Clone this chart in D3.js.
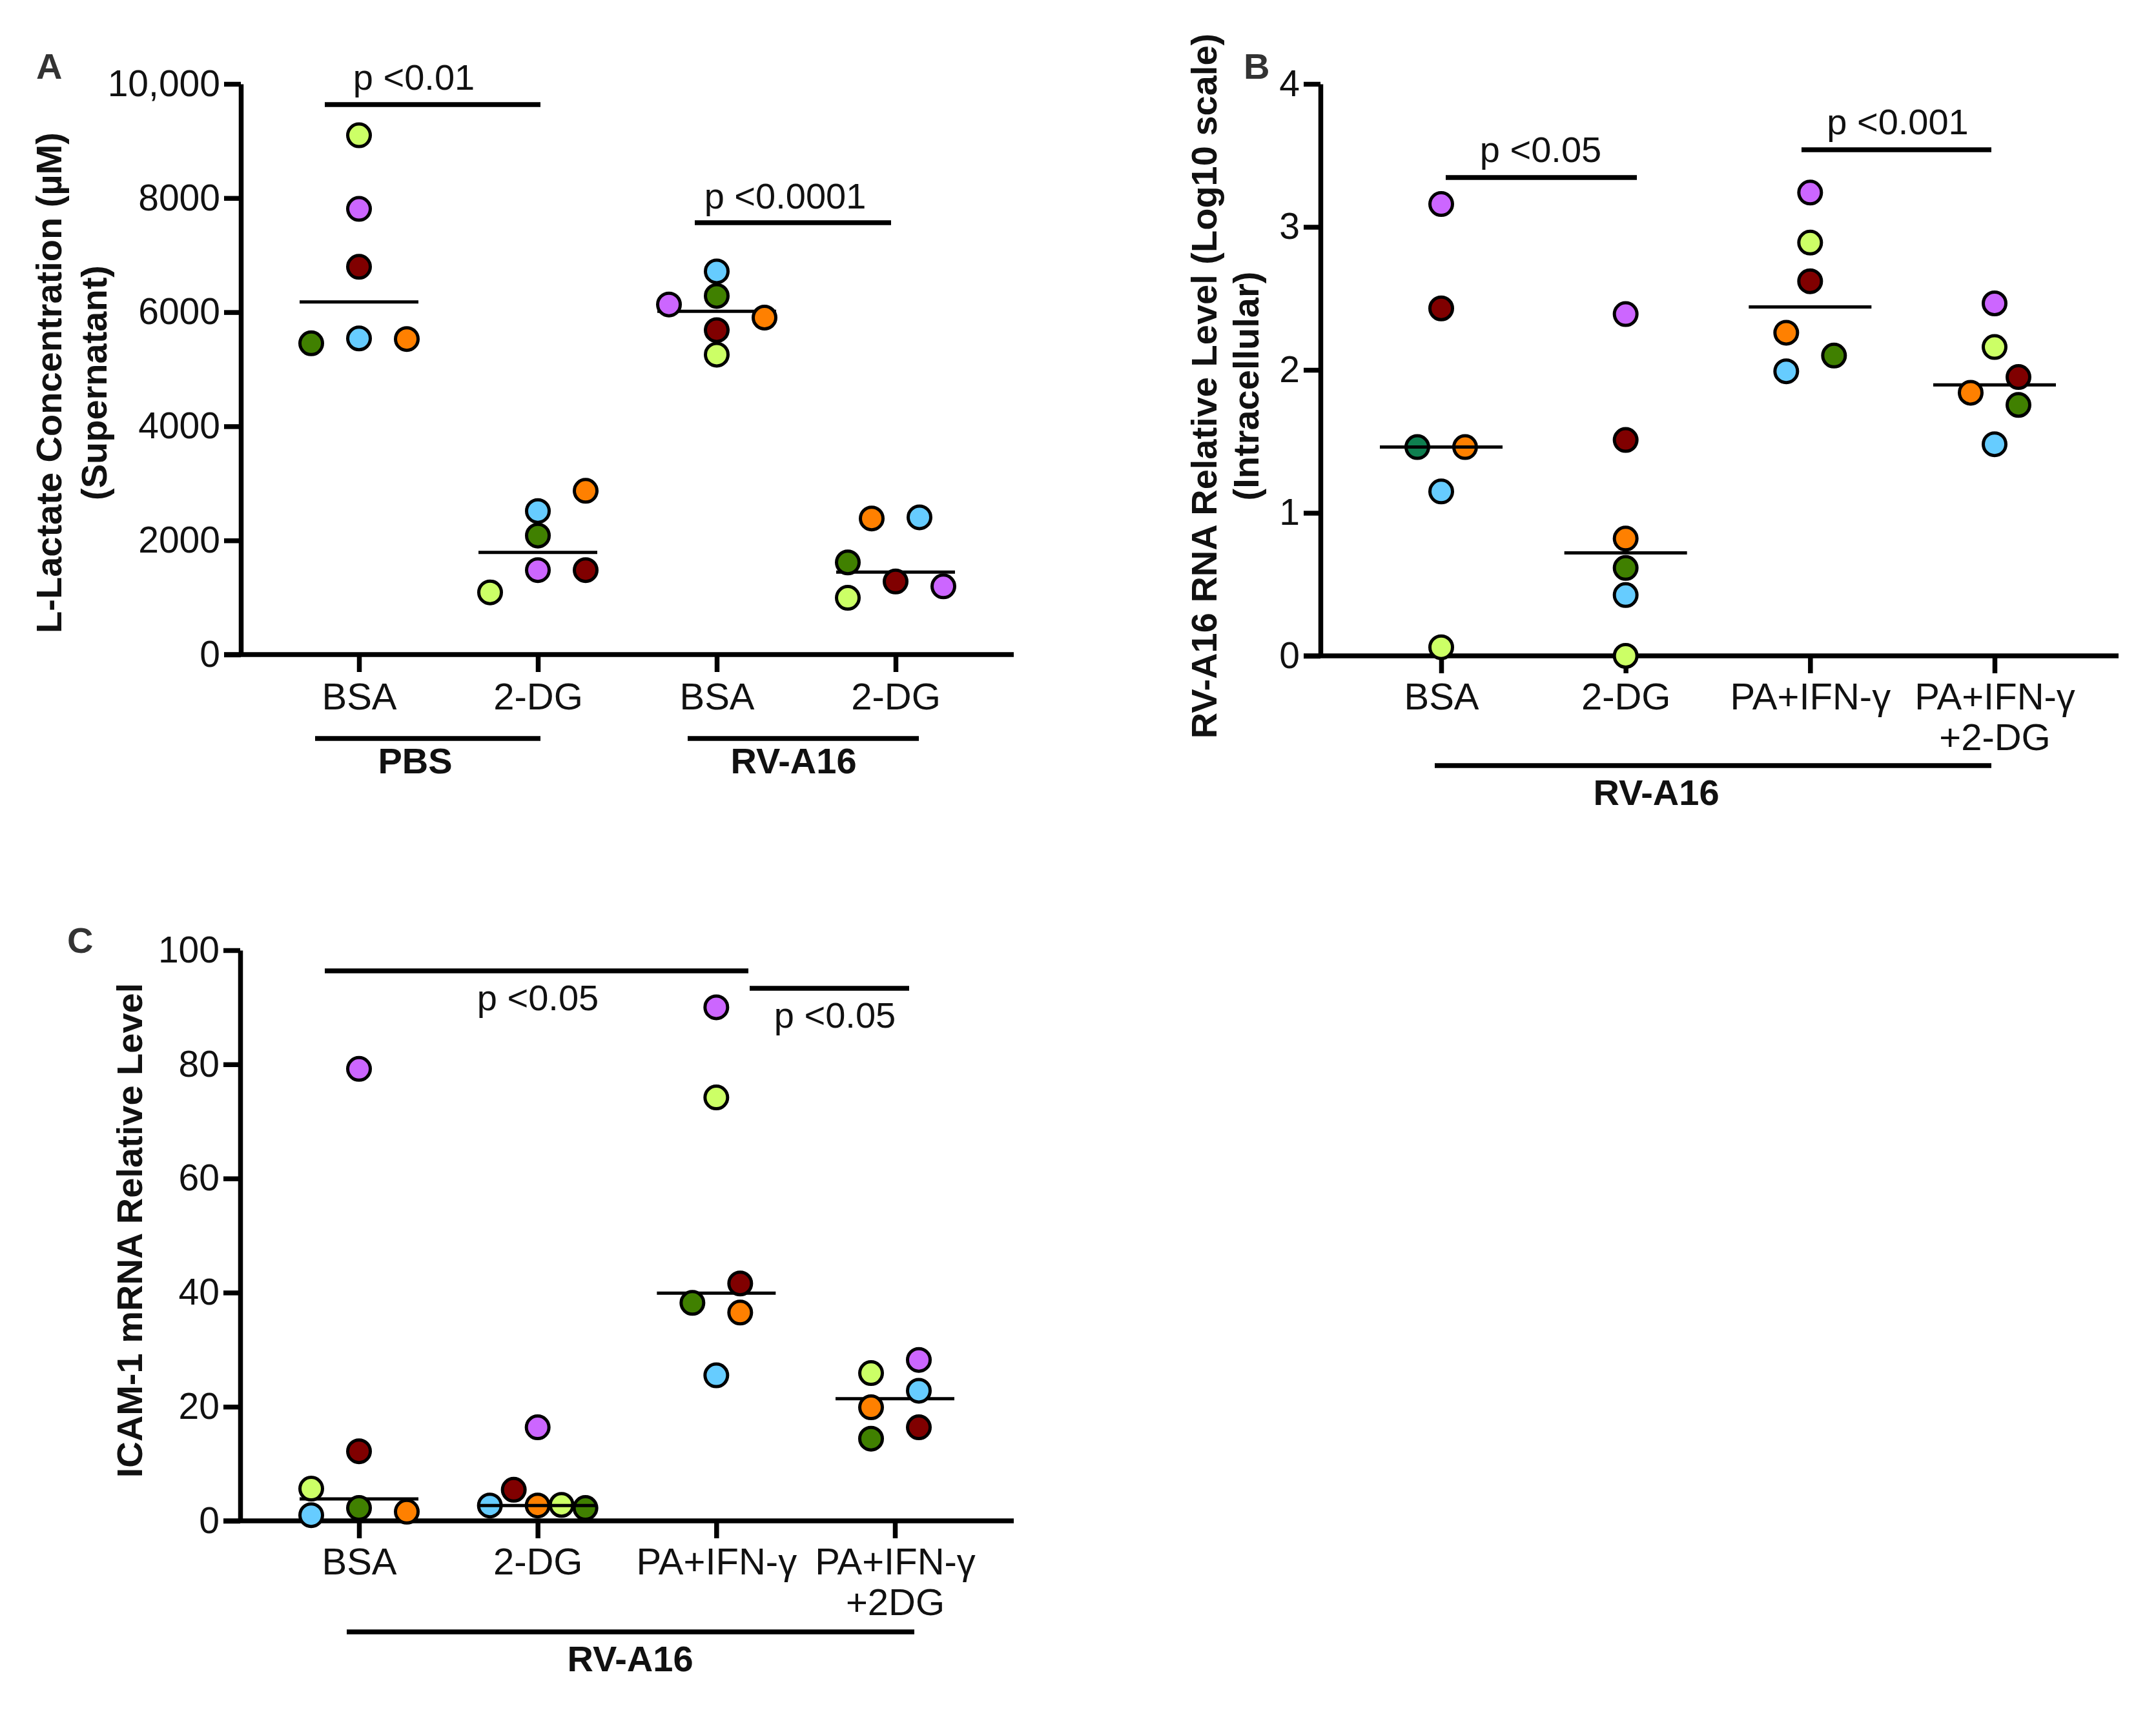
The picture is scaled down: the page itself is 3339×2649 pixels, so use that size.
<!DOCTYPE html>
<html lang="en">
<head>
    <meta charset="UTF-8">
    <title>L-Lactate, RV-A16 RNA and ICAM-1 mRNA levels</title>
    <script src="https://d3js.org/d3.v7.min.js"></script>
    <style>
        body {
            margin: 0;
            background-color: #fff;
        }
        text {
            font-family: "Liberation Sans", Arial, sans-serif;
            fill: #111;
        }
        .tick text {
            font-size: 57px;
        }
        .tick text.cat {
            font-size: 58px;
        }
        .axis path, .axis line {
            stroke: #000;
            stroke-width: 7.5px;
        }
        .title {
            font-size: 56px;
            font-weight: bold;
            text-anchor: middle;
        }
        .pval {
            font-size: 56px;
            text-anchor: middle;
        }
        .group {
            font-size: 56px;
            font-weight: bold;
            text-anchor: middle;
        }
        .letter {
            font-size: 56px;
            font-weight: bold;
            fill: #333;
        }
        .bar {
            stroke: #000;
            stroke-width: 7.5px;
        }
        .median {
            stroke: #000;
            stroke-width: 5px;
        }
        .dot {
            stroke: #000;
            stroke-width: 5px;
        }
    </style>
</head>
<body>
    <svg id="chart" width="3339" height="2649"></svg>
    <script>
        // Donor colours, same order as the rows in the value tables below
        const donorColors = ["#ccff66", "#cc66ff", "#800000", "#408000", "#66ccff", "#ff8000"];

        // Panel A: rows are donors, columns are groups
        const lactateGroups = ["BSA", "2-DG", "BSA", "2-DG"];
        const lactateTicks = [0, 2000, 4000, 6000, 8000, 10000];
        const lactateValues = [
            [9100, 1090, 5255, 995],
            [7810, 1480, 6135, 1195],
            [6795, 1480, 5685, 1280],
            [5455, 2085, 6285, 1615],
            [5540, 2515, 6715, 2405],
            [5530, 2870, 5905, 2385]
        ];
        const lactateSlots = [
            [0, -2, 0, -2],
            [0, 0, -2, 2],
            [0, 2, 0, 0],
            [-2, 0, 0, -2],
            [0, 0, 0, 1],
            [2, 2, 2, -1]
        ];
        const lactateMedians = [6180, 1790, 6015, 1445];

        // Panel B
        const rnaGroups = ["BSA", "2-DG", "PA+IFN-γ", "PA+IFN-γ\n+2-DG"];
        const rnaTicks = [0, 1, 2, 3, 4];
        const rnaValues = [
            [0.06, 0, 2.89, 2.16],
            [3.16, 2.39, 3.24, 2.465],
            [2.43, 1.51, 2.62, 1.95],
            [1.46, 0.615, 2.1, 1.755],
            [1.15, 0.425, 1.99, 1.48],
            [1.46, 0.82, 2.26, 1.84]
        ];
        const rnaSlots = [
            [0, 0, 0, 0],
            [0, 0, 0, 0],
            [0, 0, 0, 1],
            [-1, 0, 1, 1],
            [0, 0, -1, 0],
            [1, 0, -1, -1]
        ];
        const rnaMedians = [1.46, 0.72, 2.44, 1.895];

        // Panel C
        const icamGroups = ["BSA", "2-DG", "PA+IFN-γ", "PA+IFN-γ\n+2DG"];
        const icamTicks = [0, 20, 40, 60, 80, 100];
        const icamValues = [
            [5.65, 2.8, 74.2, 25.9],
            [79.2, 16.4, 90, 28.2],
            [12.2, 5.45, 41.6, 16.4],
            [2.26, 2.26, 38.2, 14.4],
            [1, 2.7, 25.5, 22.8],
            [1.6, 2.7, 36.5, 19.9]
        ];
        const icamSlots = [
            [-2, 1, 0, -1],
            [0, 0, 0, 1],
            [0, -1, 1, 1],
            [0, 2, -1, -1],
            [-2, -2, 0, 1],
            [2, 0, 1, -1]
        ];
        const icamMedians = [3.85, 2.7, 39.9, 21.4];

        const slotWidth = 37;
        const svg = d3.select("#chart");

        function drawPanel(opts) {
            const x = d3.scalePoint()
                .domain(d3.range(opts.groups.length))
                .range(opts.xRange);
            const y = d3.scaleLinear()
                .domain([0, opts.ticks[opts.ticks.length - 1]])
                .range(opts.yRange);

            const g = svg.append("g");

            // Axes. The x domain line runs past the last category, so extend it by hand
            const yAxis = d3.axisLeft(y)
                .tickValues(opts.ticks)
                .tickSize(26)
                .tickPadding(6)
                .tickSizeOuter(0)
                .tickFormat(opts.tickFormat);
            g.append("g")
                .attr("class", "axis")
                .attr("transform", `translate(${opts.xAxisAt},0)`)
                .call(yAxis);

            const xAxis = d3.axisBottom(x)
                .tickSize(27)
                .tickSizeOuter(0)
                .tickFormat("");
            const xg = g.append("g")
                .attr("class", "axis")
                .attr("transform", `translate(0,${opts.yRange[0]})`)
                .call(xAxis);
            xg.select(".domain")
                .attr("d", `M${opts.xAxisAt - 26},0H${opts.xEnd}`);

            // Category labels, some on two lines
            xg.selectAll(".tick").append("text")
                .attr("class", "cat")
                .attr("y", opts.labelY - opts.yRange[0])
                .attr("text-anchor", "middle")
                .selectAll("tspan")
                .data(i => opts.groups[i].split("\n"))
                .join("tspan")
                .attr("x", 0)
                .attr("dy", (d, i) => i ? 63 : 0)
                .text(d => d);

            const drawMedians = (cls, keep) => {
                g.selectAll("." + cls)
                    .data(opts.medians.map((v, i) => ({ v, i })).filter(keep))
                    .join("line")
                    .attr("class", "median " + cls)
                    .attr("x1", d => x(d.i) - opts.medianHalf)
                    .attr("x2", d => x(d.i) + opts.medianHalf)
                    .attr("y1", d => y(d.v))
                    .attr("y2", d => y(d.v));
            };

            // Most median lines sit behind the circles
            drawMedians("median-under", d => !opts.medianOver.includes(d.i));

            // One circle per donor and group
            const dots = [];
            opts.values.forEach((row, donor) => {
                row.forEach((v, i) => {
                    dots.push({ donor, i, v, slot: opts.slots[donor][i] });
                });
            });
            g.selectAll(".dot")
                .data(dots)
                .join("circle")
                .attr("class", "dot")
                .attr("cx", d => x(d.i) + d.slot * slotWidth)
                .attr("cy", d => y(d.v))
                .attr("r", 17.5)
                .attr("fill", d => (opts.colorFix && opts.colorFix(d)) || donorColors[d.donor]);

            // ...but a few are drawn across them in the figure
            drawMedians("median-over", d => opts.medianOver.includes(d.i));

            // Significance bars and group bars
            g.selectAll(".bar")
                .data(opts.bars)
                .join("line")
                .attr("class", "bar")
                .attr("x1", d => d[0])
                .attr("x2", d => d[1])
                .attr("y1", d => d[2])
                .attr("y2", d => d[2]);

            g.selectAll(".pval")
                .data(opts.pvals)
                .join("text")
                .attr("class", "pval")
                .attr("x", d => d[1])
                .attr("y", d => d[2])
                .text(d => d[0]);

            g.selectAll(".group")
                .data(opts.groupLabels)
                .join("text")
                .attr("class", "group")
                .attr("x", d => d[1])
                .attr("y", d => d[2])
                .text(d => d[0]);

            // Rotated y title, one or two lines
            opts.titles.forEach(t => {
                g.append("text")
                    .attr("class", "title")
                    .attr("transform", `translate(${t[1]},${t[2]}) rotate(-90)`)
                    .text(t[0]);
            });

            g.append("text")
                .attr("class", "letter")
                .attr("x", opts.letter[1])
                .attr("y", opts.letter[2])
                .text(opts.letter[0]);
        }

        drawPanel({
            groups: lactateGroups, ticks: lactateTicks, values: lactateValues,
            slots: lactateSlots, medians: lactateMedians, medianOver: [],
            tickFormat: d => d === 10000 ? "10,000" : d,
            xRange: [556, 1387], yRange: [1014, 130], xAxisAt: 373, xEnd: 1570,
            labelY: 1099, medianHalf: 92,
            bars: [[503, 837, 162], [1076, 1380, 345], [488, 837, 1144], [1065, 1423, 1144]],
            pvals: [["p <0.01", 641, 139], ["p <0.0001", 1216, 323]],
            groupLabels: [["PBS", 643, 1198], ["RV-A16", 1229, 1198]],
            titles: [["L-Lactate Concentration (µM)", 95, 593], ["(Supernatant)", 165, 593]],
            letter: ["A", 56, 122]
        });

        drawPanel({
            groups: rnaGroups, ticks: rnaTicks, values: rnaValues,
            slots: rnaSlots, medians: rnaMedians, medianOver: [0],
            tickFormat: d => d,
            xRange: [2232, 3089], yRange: [1016, 130], xAxisAt: 2045, xEnd: 3281,
            labelY: 1099, medianHalf: 95,
            colorFix: d => (d.donor === 3 && d.i === 0) ? "#0f7f50" : null,
            bars: [[2239, 2535, 275], [2790, 3084, 232], [2222, 3084, 1186]],
            pvals: [["p <0.05", 2386, 251], ["p <0.001", 2939, 208]],
            groupLabels: [["RV-A16", 2565, 1247]],
            titles: [["RV-A16 RNA Relative Level (Log10 scale)", 1884, 598], ["(Intracellular)", 1949, 598]],
            letter: ["B", 1926, 122]
        });

        drawPanel({
            groups: icamGroups, ticks: icamTicks, values: icamValues,
            slots: icamSlots, medians: icamMedians, medianOver: [1],
            tickFormat: d => d,
            xRange: [556, 1386], yRange: [2356, 1472], xAxisAt: 372, xEnd: 1570,
            labelY: 2439, medianHalf: 92,
            bars: [[503, 1159, 1504], [1161, 1408, 1531], [537, 1416, 2528]],
            pvals: [["p <0.05", 833, 1565], ["p <0.05", 1293, 1592]],
            groupLabels: [["RV-A16", 976, 2589]],
            titles: [["ICAM-1 mRNA Relative Level", 220, 1906]],
            letter: ["C", 104, 1476]
        });
    </script>
</body>
</html>
